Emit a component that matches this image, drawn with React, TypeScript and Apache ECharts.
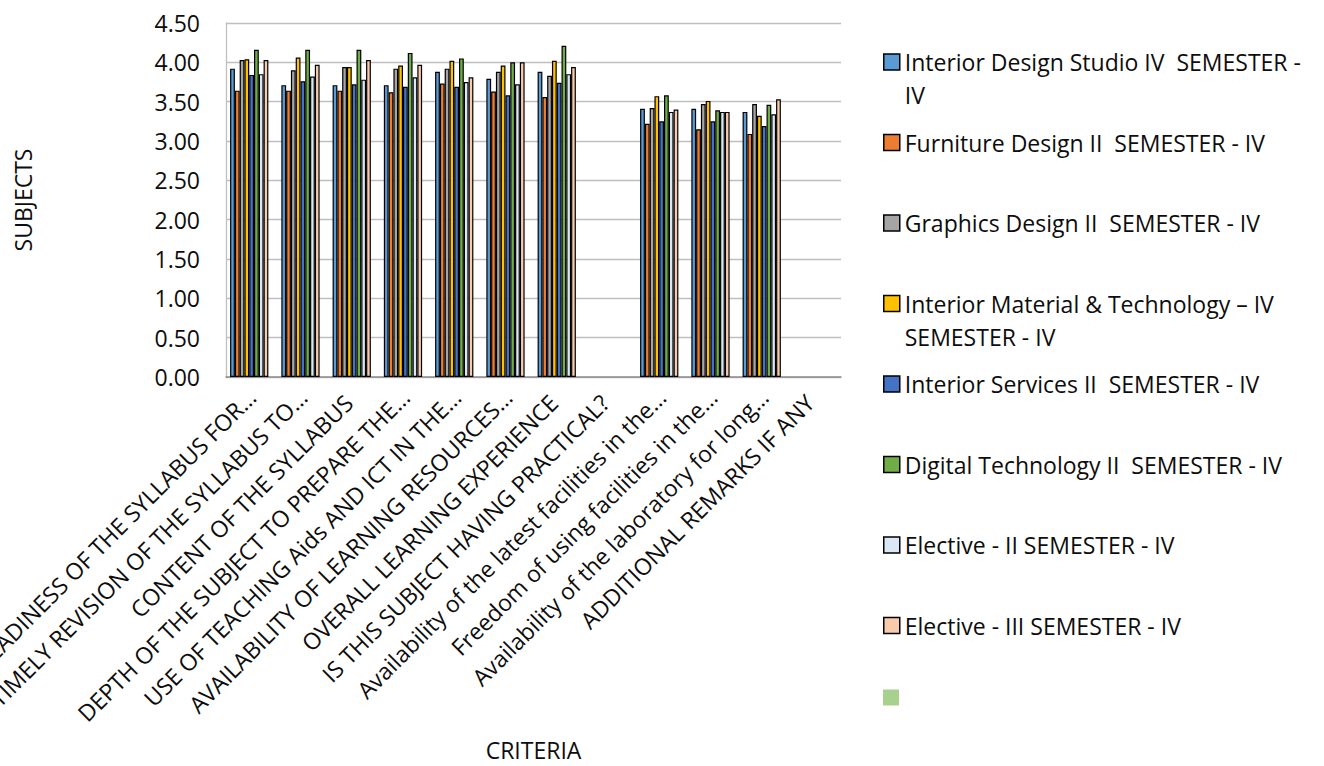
import React, { useEffect, useRef } from "react";
import * as echarts from "echarts";

const categories = [
  "READINESS OF THE SYLLABUS FOR…",
  "TIMELY REVISION OF THE SYLLABUS TO…",
  "CONTENT OF THE SYLLABUS",
  "DEPTH OF THE SUBJECT TO PREPARE THE…",
  "USE OF TEACHING Aids AND ICT IN THE…",
  "AVAILABILITY OF LEARNING RESOURCES…",
  "OVERALL LEARNING EXPERIENCE",
  "IS THIS SUBJECT HAVING PRACTICAL?",
  "Availability of the latest facilities in the…",
  "Freedom of using facilities in the…",
  "Availability of the laboratory for long…",
  "ADDITIONAL REMARKS IF ANY",
];

const yTicks = [0, 0.5, 1, 1.5, 2, 2.5, 3, 3.5, 4, 4.5];

const seriesNames = [
  "Interior Design Studio IV  SEMESTER - IV",
  "Furniture Design II  SEMESTER - IV",
  "Graphics Design II  SEMESTER - IV",
  "Interior Material & Technology – IV SEMESTER - IV",
  "Interior Services II  SEMESTER - IV",
  "Digital Technology II  SEMESTER - IV",
  "Elective - II SEMESTER - IV",
  "Elective - III SEMESTER - IV",
  " ",
];

const interiorDesignStudio = [3.92, 3.71, 3.71, 3.71, 3.88, 3.79, 3.88, null, 3.41, 3.41, 3.37, null];
const furnitureDesign = [3.64, 3.64, 3.64, 3.62, 3.73, 3.63, 3.56, null, 3.22, 3.15, 3.09, null];
const graphicsDesign = [4.03, 3.9, 3.94, 3.92, 3.92, 3.88, 3.83, null, 3.42, 3.47, 3.47, null];
const interiorMaterial = [4.04, 4.06, 3.94, 3.96, 4.02, 3.96, 4.02, null, 3.57, 3.51, 3.32, null];
const interiorServices = [3.84, 3.76, 3.72, 3.69, 3.69, 3.58, 3.74, null, 3.25, 3.25, 3.19, null];
const digitalTechnology = [4.16, 4.16, 4.16, 4.12, 4.05, 4.0, 4.21, null, 3.58, 3.39, 3.46, null];
const elective2 = [3.85, 3.82, 3.78, 3.81, 3.75, 3.72, 3.85, null, 3.37, 3.37, 3.34, null];
const elective3 = [4.03, 3.97, 4.03, 3.97, 3.81, 4.0, 3.94, null, 3.4, 3.37, 3.53, null];
const unnamedSeries = [null, null, null, null, null, null, null, null, null, null, null, null];

const seriesValues = [
  interiorDesignStudio,
  furnitureDesign,
  graphicsDesign,
  interiorMaterial,
  interiorServices,
  digitalTechnology,
  elective2,
  elective3,
  unnamedSeries,
];

const colors = ["#5B9BD5", "#ED7D31", "#A5A5A5", "#FFC000", "#4472C4", "#70AD47", "#DAE8F5", "#F8CBAD", "#A9D18E"];

// wrapped legend lines (as in reference)
const legendWrap: Record<string, string[]> = {
  "Interior Design Studio IV  SEMESTER - IV": ["Interior Design Studio IV  SEMESTER -", "IV"],
  "Interior Material & Technology – IV SEMESTER - IV": ["Interior Material & Technology – IV", "SEMESTER - IV"],
};

const FONT = "'Open Sans', 'Noto Sans', sans-serif";
const TEXT = "#0d0d0d";

export default function App() {
  const ref = useRef<HTMLDivElement>(null);
  useEffect(() => {
    if (!ref.current) return;
    const chart = echarts.init(ref.current, undefined, { renderer: "svg" });
    const LH = 33;
    const legends = seriesNames.map((name, i) => {
      const c = 62 + i * 80.5;
      const wrapped = legendWrap[name];
      return {
        orient: "vertical",
        left: 883,
        top: wrapped ? c - 1.5 * LH : c - LH / 2,
        padding: 0,
        itemWidth: 16,
        itemHeight: 16,
        icon: "rect",
        data: [name],
        selectedMode: false,
        itemStyle: i < 8 ? { borderColor: "#000", borderWidth: 1.5 } : { borderWidth: 0 },
        textStyle: { fontFamily: FONT, fontSize: 23, color: TEXT, lineHeight: LH },
        formatter: (n: string) => {
          if (n.trim() === "") return "";
          const w = legendWrap[n];
          return w ? "\n" + w.join("\n") : n;
        },
      };
    });
    const option = {
      animation: false,
      textStyle: { fontFamily: FONT },
      grid: { left: 226, top: 23, right: 483, bottom: 389, outerBoundsMode: "none" },
      legend: legends,
      xAxis: {
        type: "category",
        data: categories.map((c) => ({
          value: c,
          textStyle: c.endsWith("…") ? { padding: [0, 0, 0, 0] } : { padding: [8, 8, 0, 0] },
        })),
        name: "CRITERIA",
        nameLocation: "middle",
        nameGap: 373,
        nameTextStyle: { fontFamily: FONT, fontSize: 23, color: TEXT, verticalAlign: "middle", align: "center" },
        axisTick: { show: false },
        axisLine: { lineStyle: { color: "#8c8c8c", width: 1.5 } },
        axisLabel: {
          interval: 0,
          rotate: 45,
          margin: 16,
          fontFamily: FONT,
          fontSize: 23,
          color: TEXT,
          align: "right",
          verticalAlign: "top",
        },
      },
      yAxis: {
        type: "value",
        min: yTicks[0],
        max: yTicks[yTicks.length - 1],
        interval: 0.5,
        name: "SUBJECTS",
        nameLocation: "middle",
        nameGap: 203,
        nameRotate: 90,
        nameTextStyle: { fontFamily: FONT, fontSize: 23, color: TEXT, verticalAlign: "middle", align: "center" },
        axisLine: { show: true, lineStyle: { color: "#bfbfbf", width: 1.3 } },
        axisTick: { show: false },
        splitLine: { lineStyle: { color: "#bfbfbf", width: 1.3 } },
        axisLabel: {
          margin: 26,
          fontFamily: FONT,
          fontSize: 23,
          color: TEXT,
          formatter: (v: number) => v.toFixed(2),
        },
      },
      series: seriesNames.map((name, i) => ({
        type: "bar",
        name,
        data: seriesValues[i],
        barGap: "0%",
        barCategoryGap: "16%",
        itemStyle: { color: colors[i], borderColor: "#000", borderWidth: i < 8 ? 1.2 : 0 },
      })),
    };
    chart.setOption(option as any);
    return () => chart.dispose();
  }, []);
  return <div ref={ref} style={{ position: "fixed", left: 0, top: 0, width: 1324, height: 766, background: "#fff" }} />;
}
